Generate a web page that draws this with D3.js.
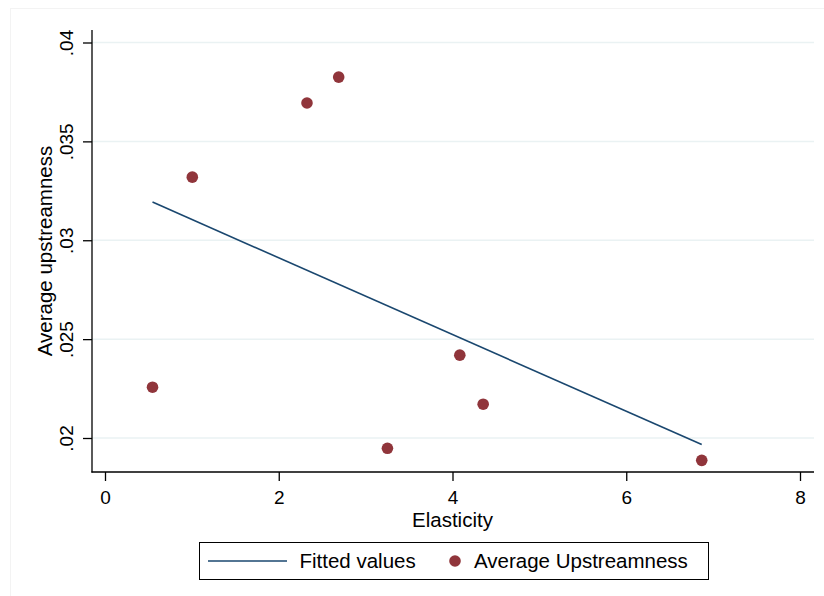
<!DOCTYPE html>
<meta charset="utf-8">
<style>
body { margin: 0; background: #fff; }
svg { display: block; font-family: "Liberation Sans", Arial, sans-serif; }
.grid line { stroke: #eaf2f3; stroke-width: 1.5px; }
.axis text { font-size: 19px; fill: #000; }
.axis line { stroke: #000; }
</style>
<body>
<div id="chart"></div>
<script src="https://d3js.org/d3.v7.min.js"></script>
<script>
// values
var elasticity   = [0.547, 1.005, 2.325, 2.690, 3.251, 4.084, 4.353, 6.869];
var upstreamness = [0.02257, 0.03319, 0.03694, 0.03825, 0.01948, 0.02419, 0.02171, 0.01887];
// fitted line end points
var fitX = [0.547, 6.869];
var fitY = [0.03193, 0.01967];
var xTicks = [0, 2, 4, 6, 8];
var yTicks = [0.02, 0.025, 0.03, 0.035, 0.04];
var yTickLabels = [".02", ".025", ".03", ".035", ".04"];

var W = 824, H = 596;
var plot = {left: 92, right: 814, top: 30, bottom: 472};

var svg = d3.select("#chart").append("svg")
  .attr("width", W).attr("height", H);

// faint outer frame of the graph region
svg.append("rect")
  .attr("x", 10.5).attr("y", 8.5).attr("width", 830).attr("height", 620)
  .attr("fill", "none").attr("stroke", "#f3f3f3");

var x = d3.scaleLinear().domain([0, 8]).range([105, 800]);
var y = d3.scaleLinear().domain([0.02, 0.04]).range([438, 42.5]);

// gridlines
svg.append("g").attr("class", "grid")
  .selectAll("line").data(yTicks).enter().append("line")
  .attr("x1", plot.left).attr("x2", plot.right)
  .attr("y1", d => y(d)).attr("y2", d => y(d));

// x axis
var xAxis = svg.append("g").attr("class", "axis")
  .attr("transform", "translate(0," + plot.bottom + ")")
  .call(d3.axisBottom(x).tickValues(xTicks).tickSize(9).tickPadding(10).tickFormat(d3.format("d")));
xAxis.select(".domain").remove();
xAxis.selectAll("line").attr("stroke-width", 1.3);

// y axis
var yAxis = svg.append("g").attr("class", "axis")
  .attr("transform", "translate(" + plot.left + ",0)")
  .call(d3.axisLeft(y).tickValues(yTicks).tickSize(9).tickFormat((d, i) => yTickLabels[i]));
yAxis.select(".domain").remove();
yAxis.selectAll("line").attr("stroke-width", 1.3);
yAxis.selectAll("text")
  .attr("x", null).attr("dy", null)
  .attr("text-anchor", "middle")
  .attr("transform", "translate(-19,0) rotate(-90)");

// axis lines
svg.append("line").attr("x1", plot.left).attr("x2", plot.left)
  .attr("y1", plot.top).attr("y2", plot.bottom + 0.6)
  .attr("stroke", "#000").attr("stroke-width", 1.3);
svg.append("line").attr("x1", plot.left - 0.6).attr("x2", plot.right)
  .attr("y1", plot.bottom).attr("y2", plot.bottom)
  .attr("stroke", "#000").attr("stroke-width", 1.3);

// axis titles
svg.append("text")
  .attr("x", x(4)).attr("y", 527)
  .attr("text-anchor", "middle").attr("font-size", 20.5)
  .text("Elasticity");
svg.append("text")
  .attr("transform", "translate(52," + 251 + ") rotate(-90)")
  .attr("text-anchor", "middle").attr("font-size", 20.5)
  .text("Average upstreamness");

// fitted line
svg.append("line")
  .attr("x1", x(fitX[0])).attr("y1", y(fitY[0]))
  .attr("x2", x(fitX[1])).attr("y2", y(fitY[1]))
  .attr("stroke", "#1a476f").attr("stroke-width", 1.6);

// points
svg.append("g").selectAll("circle")
  .data(elasticity).enter().append("circle")
  .attr("cx", d => x(d))
  .attr("cy", (d, i) => y(upstreamness[i]))
  .attr("r", 5.8)
  .attr("fill", "#90353b");

// legend
var lg = svg.append("g");
lg.append("rect")
  .attr("x", 199.5).attr("y", 542.5).attr("width", 509).attr("height", 37)
  .attr("fill", "#fff").attr("stroke", "#000").attr("stroke-width", 1);
lg.append("line")
  .attr("x1", 208).attr("x2", 287).attr("y1", 561).attr("y2", 561)
  .attr("stroke", "#1a476f").attr("stroke-width", 1.6);
lg.append("text").attr("x", 299.5).attr("y", 568)
  .attr("font-size", 20.5).text("Fitted values");
lg.append("circle").attr("cx", 455).attr("cy", 561).attr("r", 5.8)
  .attr("fill", "#90353b");
lg.append("text").attr("x", 474).attr("y", 568)
  .attr("font-size", 20.5).text("Average Upstreamness");
</script>
</body>
